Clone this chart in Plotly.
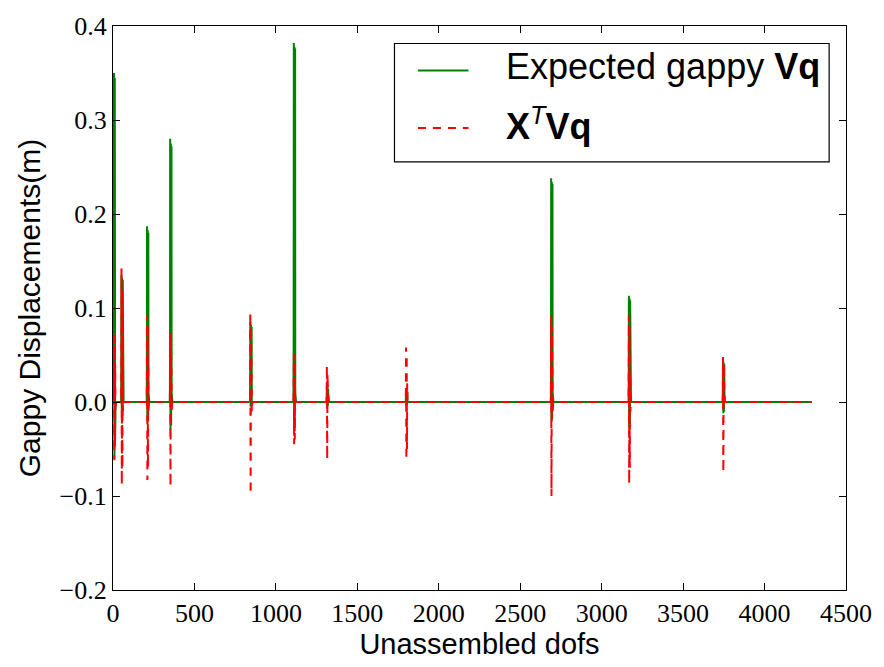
import numpy as np
import plotly.graph_objects as go

# Total number of unassembled degrees of freedom
n_dofs = 4290

# First dof of each loaded element block
block_start = [4, 50, 207, 349, 841, 1108, 1311, 1797, 2688, 3165, 3743]

# Expected gappy Vq over each block (consecutive dofs)
expected_gappy = [
    [0.0, 0.060, 0.350, 0.348, 0.020, -0.060, 0.250, 0.345, 0.100, -0.040, 0.300, 0.040, 0.000, 0.0],
    [0.0, 0.020, 0.135, 0.133, -0.010, 0.060, 0.132, 0.020, -0.015, 0.100, 0.130, 0.010, 0.000, 0.0],
    [0.0, 0.030, 0.187, 0.185, -0.020, 0.100, 0.183, 0.020, -0.018, 0.150, 0.180, 0.010, 0.000, 0.0],
    [0.0, 0.040, 0.280, 0.278, -0.030, 0.150, 0.275, 0.020, -0.025, 0.200, 0.272, 0.010, 0.000, 0.0],
    [0.0, 0.010, 0.085, 0.084, -0.005, 0.040, 0.082, 0.010, -0.004, 0.060, 0.080, 0.000, 0.000, 0.0],
    [0.0, 0.050, 0.382, 0.380, -0.030, 0.200, 0.378, 0.010, -0.028, 0.300, 0.376, 0.010, 0.000, 0.0],
    [0.0, 0.005, 0.017, 0.016, -0.005, 0.010, 0.015, 0.000, -0.004, 0.012, 0.014, 0.000, 0.000, 0.0],
    [0.0, 0.004, 0.015, 0.014, -0.004, 0.008, 0.012, 0.000, -0.003, 0.010, 0.011, 0.000, 0.000, 0.0],
    [0.0, 0.030, 0.238, 0.236, -0.020, 0.120, 0.234, 0.010, -0.018, 0.180, 0.232, 0.010, 0.000, 0.0],
    [0.0, 0.020, 0.113, 0.112, -0.027, 0.060, 0.110, 0.010, -0.024, 0.090, 0.108, 0.000, 0.000, 0.0],
    [0.0, 0.010, 0.045, 0.044, -0.012, 0.020, 0.042, 0.000, -0.010, 0.030, 0.040, 0.000, 0.000, 0.0],
]

# X^T Vq over the same blocks
xt_vq = [
    [0.0, 0.020, 0.075, -0.020, -0.062, 0.050, 0.060, -0.030, -0.050, 0.040, 0.020, -0.010, 0.000, 0.0],
    [0.0, 0.030, 0.142, -0.040, -0.088, 0.100, 0.120, -0.050, -0.070, 0.060, 0.030, -0.010, 0.000, 0.0],
    [0.0, 0.020, 0.092, -0.030, -0.083, 0.060, 0.080, -0.040, -0.070, 0.040, 0.020, -0.010, 0.000, 0.0],
    [0.0, 0.020, 0.074, -0.030, -0.090, 0.050, 0.070, -0.060, -0.080, 0.040, 0.020, -0.010, 0.000, 0.0],
    [0.0, 0.020, 0.095, -0.030, -0.098, 0.060, 0.080, -0.040, -0.080, 0.040, 0.020, -0.010, 0.000, 0.0],
    [0.0, 0.010, 0.051, -0.020, -0.045, 0.030, 0.045, -0.020, -0.040, 0.020, 0.010, 0.000, 0.000, 0.0],
    [0.0, 0.010, 0.039, -0.020, -0.061, 0.020, 0.030, -0.030, -0.050, 0.010, 0.010, 0.000, 0.000, 0.0],
    [0.0, 0.010, 0.058, -0.020, -0.062, 0.030, 0.050, -0.020, -0.050, 0.020, 0.010, 0.000, 0.000, 0.0],
    [0.0, 0.020, 0.092, -0.030, -0.100, 0.050, 0.080, -0.050, -0.090, 0.030, 0.020, -0.010, 0.000, 0.0],
    [0.0, 0.020, 0.092, -0.030, -0.087, 0.050, 0.080, -0.040, -0.070, 0.030, 0.020, -0.010, 0.000, 0.0],
    [0.0, 0.010, 0.048, -0.020, -0.075, 0.030, 0.040, -0.030, -0.060, 0.020, 0.010, 0.000, 0.000, 0.0],
]

x_ticks = [0, 500, 1000, 1500, 2000, 2500, 3000, 3500, 4000, 4500]
y_ticks = [-0.2, -0.1, 0.0, 0.1, 0.2, 0.3, 0.4]

# Assemble full dof vectors (zero outside the loaded blocks)
dofs = np.arange(n_dofs)
vq = np.zeros(n_dofs)
xtvq = np.zeros(n_dofs)
for start, g, r in zip(block_start, expected_gappy, xt_vq):
    vq[start:start + len(g)] = g
    xtvq[start:start + len(r)] = r

GREEN = "#008000"
RED = "#ff0000"
SERIF = "Liberation Serif, DejaVu Serif, serif"
SANS = "Liberation Sans, Arial, sans-serif"

fig = go.Figure()
fig.add_trace(go.Scatter(x=dofs, y=vq, mode="lines", name="Expected gappy Vq",
                         line=dict(color=GREEN, width=2), showlegend=False))
fig.add_trace(go.Scatter(x=dofs, y=xtvq, mode="lines", name="X^T Vq",
                         line=dict(color=RED, width=2, dash="8px,7px"),
                         showlegend=False))

axis_common = dict(
    showline=True, linecolor="black", linewidth=1.2, mirror="allticks",
    ticks="inside", ticklen=7, tickwidth=1, tickcolor="black",
    showgrid=False, zeroline=False,
    tickfont=dict(family=SERIF, size=26, color="black"),
)

fig.update_xaxes(range=[0, 4500], tickvals=x_ticks, ticktext=[str(v) for v in x_ticks],
                 title=dict(text="Unassembled dofs", font=dict(family=SANS, size=29, color="black"),
                            standoff=6),
                 **axis_common)
fig.update_yaxes(range=[-0.2, 0.4], tickvals=y_ticks, tickformat=".1f",
                 title=dict(text="Gappy Displacements(m)", font=dict(family=SANS, size=30, color="black"),
                            standoff=10),
                 **axis_common)

# Legend box drawn in paper coordinates
lx0, lx1, ly0, ly1 = 0.384, 0.977, 0.759, 0.969
shapes = [
    dict(type="rect", xref="paper", yref="paper", x0=lx0, x1=lx1, y0=ly0, y1=ly1,
         line=dict(color="black", width=1.2), fillcolor="white", layer="above"),
    dict(type="line", xref="paper", yref="paper", x0=0.416, x1=0.485, y0=0.921, y1=0.921,
         line=dict(color=GREEN, width=2), layer="above"),
    dict(type="line", xref="paper", yref="paper", x0=0.416, x1=0.485, y0=0.819, y1=0.819,
         line=dict(color=RED, width=2, dash="8px,7px"), layer="above"),
]
annotations = [
    dict(xref="paper", yref="paper", x=0.534, y=0.928, xanchor="left", yanchor="middle",
         showarrow=False, text="Expected gappy <b>Vq</b>",
         font=dict(family=SANS, size=36, color="black")),
    dict(xref="paper", yref="paper", x=0.534, y=0.826, xanchor="left", yanchor="middle",
         showarrow=False,
         text="<b>X</b><sup><i>T</i></sup><b>Vq</b>",
         font=dict(family=SANS, size=36, color="black")),
]

fig.update_layout(
    width=884, height=667,
    margin=dict(l=113, r=31, t=23, b=72),
    paper_bgcolor="white", plot_bgcolor="white",
    shapes=shapes, annotations=annotations,
)

fig.write_html("out.html")
